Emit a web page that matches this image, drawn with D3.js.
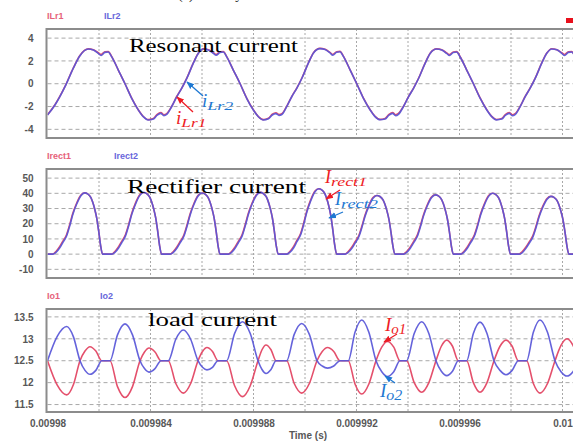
<!DOCTYPE html>
<html><head><meta charset="utf-8">
<script src="https://cdn.jsdelivr.net/npm/d3@7"></script>
<style>
html,body{margin:0;padding:0;background:#fff;}
svg{display:block;}
</style></head><body>
<svg id="c" width="573" height="441"></svg>
<script>
// ---------- shared x axis ----------
const T0 = 0.00998;
const xDomain = [0.00998, 0.01];
const xTickValues = [0.00998, 0.009984, 0.009988, 0.009992, 0.009996, 0.01];
const xTickLabels = ["0.00998", "0.009984", "0.009988", "0.009992", "0.009996", "0.01"];
const xGridValues = [0.009982, 0.009984, 0.009986, 0.009988, 0.00999, 0.009992, 0.009994, 0.009996, 0.009998, 0.01];
const xTitle = "Time (s)";

// ---------- panel 1 : resonant current (time in microseconds after 0.00998 s) ----------
const resTime_us = [0, 0.29, 0.68, 1.0, 1.26,
 1.58, 1.78, 1.97, 2.08, 2.23, 2.36, 2.49, 2.75, 3.01, 3.27, 3.53, 3.72, 3.91, 4.11, 4.26, 4.40, 4.52, 4.63, 4.82, 5.02, 5.21, 5.41, 5.66, 5.86,
 6.05, 6.25, 6.44, 6.55, 6.70, 6.83, 6.96, 7.22, 7.48, 7.74, 8.00, 8.19, 8.38, 8.58, 8.73, 8.87, 8.99, 9.10, 9.29, 9.49, 9.68, 9.88, 10.13, 10.33,
 10.58, 10.78, 10.97, 11.08, 11.23, 11.36, 11.49, 11.75, 12.01, 12.27, 12.53, 12.72, 12.91, 13.11, 13.26, 13.40, 13.52, 13.63, 13.82, 14.02, 14.21, 14.41, 14.66, 14.86,
 15.11, 15.31, 15.50, 15.61, 15.76, 15.89, 16.02, 16.28, 16.54, 16.80, 17.06, 17.25, 17.44, 17.64, 17.79, 17.93, 18.05, 18.16, 18.35, 18.55, 18.74, 18.94, 19.19, 19.39,
 19.58, 19.78, 19.97, 20.08, 20.23, 20.36, 20.49, 20.75];
const ILr2 = [-2.75, -1.87, -0.26, 1.35, 2.46,
 3.04, 2.96, 2.67, 2.48, 2.75, 2.78, 2.38, 1.2, 0, -1.28, -2.31, -2.89, -3.18, -3.1, -2.75, -2.6, -2.8, -2.69, -2.02, -1.14, -0.41, 0.47, 1.78, 2.67,
 3.04, 2.96, 2.67, 2.5, 2.74, 2.78, 2.36, 1.18, 0, -1.3, -2.33, -2.9, -3.18, -3.08, -2.74, -2.62, -2.78, -2.7, -2.0, -1.12, -0.4, 0.48, 1.8, 2.7,
 3.08, 3.0, 2.7, 2.5, 2.76, 2.8, 2.4, 1.22, 0, -1.28, -2.3, -2.88, -3.16, -3.1, -2.76, -2.6, -2.8, -2.68, -2.02, -1.15, -0.42, 0.46, 1.77, 2.66,
 3.04, 2.96, 2.66, 2.47, 2.74, 2.78, 2.37, 1.2, 0, -1.27, -2.3, -2.88, -3.17, -3.1, -2.75, -2.6, -2.8, -2.7, -2.03, -1.14, -0.41, 0.47, 1.78, 2.67,
 3.05, 2.97, 2.67, 2.48, 2.75, 2.78, 2.38, 1.2];
const ILr1 = [-2.72, -1.84, -0.24, 1.37, 2.48,
 3.06, 2.98, 2.72, 2.56, 2.8, 2.82, 2.4, 1.2, 0, -1.26, -2.3, -2.87, -3.15, -3.05, -2.68, -2.52, -2.72, -2.62, -2.0, -1.12, -0.4, 0.49, 1.8, 2.69,
 3.06, 2.98, 2.72, 2.57, 2.8, 2.82, 2.38, 1.18, 0, -1.28, -2.31, -2.88, -3.15, -3.03, -2.67, -2.54, -2.7, -2.63, -1.98, -1.1, -0.38, 0.5, 1.82, 2.72,
 3.1, 3.02, 2.75, 2.57, 2.81, 2.84, 2.42, 1.22, 0, -1.26, -2.28, -2.86, -3.13, -3.05, -2.69, -2.52, -2.72, -2.61, -2.0, -1.13, -0.4, 0.48, 1.79, 2.68,
 3.06, 2.98, 2.71, 2.55, 2.79, 2.82, 2.39, 1.2, 0, -1.25, -2.28, -2.86, -3.14, -3.05, -2.68, -2.53, -2.72, -2.63, -2.01, -1.12, -0.39, 0.49, 1.8, 2.69,
 3.07, 2.99, 2.72, 2.56, 2.8, 2.82, 2.4, 1.2];
const resTicks = [4, 2, 0, -2, -4];
const resTickLabels = ["4", "2", "0", "-2", "-4"];

// ---------- panel 2 : rectifier current ----------
const rectTime_us = [0,
 0.20, 0.32, 0.47, 0.59, 0.74, 0.86, 0.98, 1.13, 1.29, 1.44, 1.56, 1.68, 1.75, 1.83, 1.91, 1.99, 2.06, 2.14,
 2.49, 2.61, 2.76, 2.88, 3.03, 3.15, 3.27, 3.42, 3.58, 3.73, 3.85, 3.97, 4.04, 4.12, 4.20, 4.28, 4.35, 4.43,
 4.76, 4.88, 5.03, 5.15, 5.30, 5.42, 5.54, 5.69, 5.85, 6.00, 6.12, 6.24, 6.31, 6.39, 6.47, 6.55, 6.62, 6.70,
 7.02, 7.14, 7.29, 7.41, 7.56, 7.68, 7.80, 7.95, 8.11, 8.26, 8.38, 8.50, 8.57, 8.65, 8.73, 8.81, 8.88, 8.96,
 9.29, 9.41, 9.56, 9.68, 9.83, 9.95, 10.07, 10.22, 10.38, 10.53, 10.65, 10.77, 10.84, 10.92, 11.00, 11.08, 11.15, 11.23,
 11.55, 11.67, 11.82, 11.94, 12.09, 12.21, 12.33, 12.48, 12.64, 12.79, 12.91, 13.03, 13.10, 13.18, 13.26, 13.34, 13.41, 13.49,
 13.82, 13.94, 14.09, 14.21, 14.36, 14.48, 14.60, 14.75, 14.91, 15.06, 15.18, 15.30, 15.37, 15.45, 15.53, 15.61, 15.68, 15.76,
 16.04, 16.16, 16.31, 16.43, 16.58, 16.70, 16.82, 16.97, 17.13, 17.28, 17.40, 17.52, 17.59, 17.67, 17.75, 17.83, 17.90, 17.98,
 18.31, 18.43, 18.58, 18.70, 18.85, 18.97, 19.09, 19.24, 19.40, 19.55, 19.67, 19.79, 19.86, 19.94, 20.02, 20.10, 20.17, 20.25,
 20.8];
const Irect2 = [0,
 0, 1, 4, 7.5, 11.9, 18.4, 25.9, 32.8, 38.3, 40.3, 39.6, 37.3, 34.4, 29.9, 23.9, 14.9, 6, 0,
 0, 1, 4, 7.5, 12, 18.5, 26, 33, 38.5, 40.5, 39.8, 37.5, 34.6, 30, 24, 15, 6, 0,
 0, 1, 4, 7.4, 11.9, 18.4, 25.8, 32.8, 38.2, 40.2, 39.5, 37.2, 34.3, 29.8, 23.8, 14.9, 6, 0,
 0, 1, 4, 7.5, 12, 18.6, 26.1, 33.1, 38.6, 40.6, 39.9, 37.6, 34.7, 30.1, 24.1, 15, 6, 0,
 0, 1.1, 4.2, 8, 12.7, 19.6, 27.6, 35, 40.9, 43, 42.3, 39.8, 36.7, 31.9, 25.5, 15.9, 6.4, 0,
 0, 1, 3.8, 7.1, 11.4, 17.6, 24.8, 31.4, 36.7, 38.6, 37.9, 35.7, 33, 28.6, 22.9, 14.3, 5.7, 0,
 0, 1, 3.9, 7.2, 11.6, 17.8, 25, 31.8, 37.1, 39, 38.3, 36.1, 33.3, 28.9, 23.1, 14.4, 5.8, 0,
 0, 1, 4, 7.4, 11.9, 18.3, 25.7, 32.6, 38, 40, 39.3, 37, 34.2, 29.6, 23.7, 14.8, 5.9, 0,
 0, 0.9, 3.8, 7, 11.3, 17.4, 24.4, 31, 36.1, 38, 37.3, 35.2, 32.5, 28.1, 22.5, 14.1, 5.6, 0,
 0];
const Irect1 = [0,
 0, 1.6, 4.9, 8.4, 12.8, 19.3, 26.7, 33.5, 38.8, 40.3, 39.6, 37.3, 34.4, 29.9, 23.9, 14.9, 6, 0,
 0, 1.6, 4.9, 8.4, 12.9, 19.4, 26.8, 33.7, 39, 40.5, 39.8, 37.5, 34.6, 30, 24, 15, 6, 0,
 0, 1.6, 4.9, 8.3, 12.8, 19.3, 26.6, 33.5, 38.7, 40.2, 39.5, 37.2, 34.3, 29.8, 23.8, 14.9, 6, 0,
 0, 1.6, 4.9, 8.4, 12.9, 19.5, 26.9, 33.8, 39.1, 40.6, 39.9, 37.6, 34.7, 30.1, 24.1, 15, 6, 0,
 0, 1.7, 5.1, 8.9, 13.6, 20.5, 28.4, 35.7, 41.4, 43, 42.3, 39.8, 36.7, 31.9, 25.5, 15.9, 6.4, 0,
 0, 1.6, 4.7, 8, 12.3, 18.5, 25.6, 32.1, 37.2, 38.6, 37.9, 35.7, 33, 28.6, 22.9, 14.3, 5.7, 0,
 0, 1.6, 4.8, 8.1, 12.5, 18.7, 25.8, 32.5, 37.6, 39, 38.3, 36.1, 33.3, 28.9, 23.1, 14.4, 5.8, 0,
 0, 1.6, 4.9, 8.3, 12.8, 19.2, 26.5, 33.3, 38.5, 40, 39.3, 37, 34.2, 29.6, 23.7, 14.8, 5.9, 0,
 0, 1.5, 4.7, 7.9, 12.2, 18.3, 25.2, 31.7, 36.6, 38, 37.3, 35.2, 32.5, 28.1, 22.5, 14.1, 5.6, 0,
 0];
const rectTicks = [50, 40, 30, 20, 10, 0, -10];
const rectTickLabels = ["50", "40", "30", "20", "10", "0", "-10"];

// ---------- panel 3 : load current ----------
const loadTime_us = [0, 0.373, 0.746, 1.004, 1.262, 1.456, 1.650, 1.878, 2.105,
 2.427, 2.718, 3.010, 3.301, 3.592, 3.767, 3.942, 4.175, 4.408,
 4.691, 4.983, 5.274, 5.559, 5.845, 6.019, 6.194, 6.408, 6.621,
 6.959, 7.266, 7.573, 7.874, 8.175, 8.330, 8.485, 8.680, 8.874,
 9.289, 9.581, 9.872, 10.169, 10.466, 10.670, 10.874, 11.117, 11.359,
 11.682, 11.942, 12.202, 12.480, 12.757, 12.981, 13.204, 13.447, 13.689,
 13.949, 14.241, 14.532, 14.810, 15.087, 15.295, 15.503, 15.728, 15.953,
 16.280, 16.538, 16.796, 17.068, 17.340, 17.573, 17.806, 18.045, 18.283,
 18.610, 18.868, 19.126, 19.417, 19.709, 19.942, 20.175, 20.408, 20.641];
const Io2 = [12.5, 13.05, 13.28, 13.05, 12.5, 12.28, 12.19, 12.28, 12.5,
 12.5, 13.09, 13.34, 13.09, 12.5, 12.32, 12.24, 12.32, 12.5,
 12.5, 12.99, 13.2, 12.99, 12.5, 12.35, 12.29, 12.35, 12.5,
 12.5, 13.12, 13.39, 13.12, 12.5, 12.3, 12.21, 12.3, 12.5,
 12.5, 13.1, 13.35, 13.1, 12.5, 12.38, 12.33, 12.38, 12.5,
 12.5, 13.15, 13.43, 13.15, 12.5, 12.25, 12.14, 12.25, 12.5,
 12.5, 13.12, 13.39, 13.12, 12.5, 12.26, 12.16, 12.26, 12.5,
 12.5, 13.12, 13.38, 13.12, 12.5, 12.28, 12.18, 12.28, 12.5,
 12.5, 13.15, 13.43, 13.15, 12.5, 12.25, 12.15, 12.25, 12.5];
const Io1 = [12.5, 11.95, 11.72, 11.95, 12.5, 12.72, 12.82, 12.72, 12.5,
 12.5, 11.91, 11.66, 11.91, 12.5, 12.7, 12.79, 12.7, 12.5,
 12.5, 11.98, 11.76, 11.98, 12.5, 12.71, 12.8, 12.71, 12.5,
 12.5, 11.93, 11.68, 11.93, 12.5, 12.75, 12.86, 12.75, 12.5,
 12.5, 11.98, 11.76, 11.98, 12.5, 12.71, 12.8, 12.71, 12.5,
 12.5, 11.97, 11.74, 11.97, 12.5, 12.81, 12.94, 12.81, 12.5,
 12.5, 12.0, 11.78, 12.0, 12.5, 12.83, 12.97, 12.83, 12.5,
 12.5, 12.0, 11.78, 12.0, 12.5, 12.83, 12.97, 12.83, 12.5,
 12.5, 11.98, 11.76, 11.98, 12.5, 12.85, 13.0, 12.85, 12.5];
const loadTicks = [13.5, 13, 12.5, 12, 11.5];
const loadTickLabels = ["13.5", "13", "12.5", "12", "11.5"];

// ---------- drawing ----------
const RED = "#e4506c", BLUE = "#5856d8";
const ANN_RED = "#ee1c24", ANN_BLUE = "#1e78d2";
const PL = 47.5, PR = 620;
const svg = d3.select("#c");
const x = d3.scaleLinear().domain(xDomain).range([47.5, 562.5]);

const defs = svg.append("defs");
[["ar", ANN_RED], ["ab", ANN_BLUE]].forEach(([id, col]) => {
  defs.append("marker").attr("id", id).attr("viewBox", "0 0 10 10").attr("refX", 9).attr("refY", 5)
    .attr("markerWidth", 6).attr("markerHeight", 6).attr("orient", "auto")
    .append("path").attr("d", "M0,1 L10,5 L0,9 Z").attr("fill", col);
});

const panels = [
  {top: 29, bottom: 138, domain: [-4.76, 4.8], ticks: resTicks, labels: resTickLabels, time: resTime_us,
   series: [{name: "ILr1", v: ILr1, c: RED}, {name: "ILr2", v: ILr2, c: BLUE}], legY: 19, legX: [47, 104]},
  {top: 169, bottom: 278, domain: [-15.7, 56.0], ticks: rectTicks, labels: rectTickLabels, time: rectTime_us,
   series: [{name: "Irect1", v: Irect1, c: RED}, {name: "Irect2", v: Irect2, c: BLUE}], legY: 159, legX: [47, 114]},
  {top: 309, bottom: 412, domain: [11.33, 13.68], ticks: loadTicks, labels: loadTickLabels, time: loadTime_us,
   series: [{name: "Io1", v: Io1, c: RED}, {name: "Io2", v: Io2, c: BLUE}], legY: 299, legX: [47, 100]}
];

panels.forEach((p, pi) => {
  const y = d3.scaleLinear().domain(p.domain).range([p.bottom, p.top]);
  const g = svg.append("g");
  defs.append("clipPath").attr("id", "clip" + pi).append("rect")
    .attr("x", PL).attr("y", p.top).attr("width", PR - PL).attr("height", p.bottom - p.top);
  g.selectAll(".hg").data(p.ticks).join("line")
    .attr("x1", PL).attr("x2", PR).attr("y1", d => y(d)).attr("y2", d => y(d))
    .attr("stroke", "#a8a8a8").attr("stroke-width", 1).attr("stroke-dasharray", "4,3");
  g.selectAll(".vg").data(xGridValues).join("line")
    .attr("x1", d => x(d)).attr("x2", d => x(d)).attr("y1", p.top).attr("y2", p.bottom)
    .attr("stroke", "#a8a8a8").attr("stroke-width", 1).attr("stroke-dasharray", "2,2");
  const ax = g.append("g").attr("transform", `translate(${PL},0)`)
    .call(d3.axisLeft(y).tickValues(p.ticks).tickSize(0).tickPadding(14).tickFormat((d, i) => p.labels[i]));
  ax.select(".domain").remove();
  ax.selectAll("text").attr("fill", "#3a3a3a").style("font-family", "'Liberation Sans', Arial, sans-serif")
    .style("font-size", "10px").style("font-weight", "bold").attr("opacity", 0.85);
  const data = p.series.map(s => p.time.map((t, i) => [T0 + t * 1e-6, s.v[i]]));
  const line = d3.line().x(d => x(d[0])).y(d => y(d[1])).curve(d3.curveMonotoneX);
  const lg = g.append("g").attr("clip-path", `url(#clip${pi})`);
  p.series.forEach((s, si) => {
    lg.append("path").datum(data[si]).attr("d", line).attr("fill", "none")
      .attr("stroke", s.c).attr("stroke-width", 1.6).attr("stroke-linejoin", "round")
      .attr("opacity", si === 1 ? 0.92 : 1);
  });
  g.append("rect").attr("x", PL - 1).attr("y", p.top).attr("width", PR).attr("height", p.bottom - p.top)
    .attr("fill", "none").attr("stroke", "#8c8c8c").attr("stroke-width", 2);
  p.series.forEach((s, si) => {
    g.append("text").attr("x", p.legX[si]).attr("y", p.legY).text(s.name)
      .attr("fill", s.c).style("font-family", "'Liberation Sans', Arial, sans-serif")
      .style("font-size", "9px").style("font-weight", "bold").attr("opacity", 0.9);
  });
});

const xa = svg.append("g").attr("transform", "translate(0,412)")
  .call(d3.axisBottom(x).tickValues(xTickValues).tickSize(0).tickPadding(8).tickFormat((d, i) => xTickLabels[i]));
xa.select(".domain").remove();
xa.selectAll("text").attr("fill", "#3a3a3a").style("font-family", "'Liberation Sans', Arial, sans-serif")
  .style("font-size", "10px").style("font-weight", "bold").attr("opacity", 0.85);
svg.append("text").attr("x", 308).attr("y", 439).attr("text-anchor", "middle").text(xTitle)
  .attr("fill", "#3a3a3a").style("font-family", "'Liberation Sans', Arial, sans-serif")
  .style("font-size", "10px").style("font-weight", "bold").attr("opacity", 0.85);

svg.append("text").attr("x", 178).attr("y", -1).text("(a) Primary")
  .style("font-family", "'Liberation Serif', serif").style("font-size", "14px").attr("fill", "#222");
svg.append("rect").attr("x", 566).attr("y", 18).attr("width", 8).attr("height", 5).attr("fill", "#e8101c");

function title(t, xp, yp, len) {
  svg.append("text").attr("x", xp).attr("y", yp).text(t).attr("fill", "#000")
    .style("font-family", "'Liberation Serif', 'Times New Roman', serif").style("font-size", "19px")
    .attr("textLength", len).attr("lengthAdjust", "spacingAndGlyphs");
}
title("Resonant current", 129, 52, 169);
title("Rectifier current", 127, 193, 179);
title("load current", 148, 326, 129);

function ann(main, sub, xp, yp, col, mainSize, subSize, subLen) {
  const t = svg.append("text").attr("x", xp).attr("y", yp).attr("fill", col)
    .style("font-family", "'Liberation Serif', 'Times New Roman', serif").style("font-style", "italic");
  t.append("tspan").style("font-size", mainSize + "px").text(main);
  const s = t.append("tspan").attr("dy", 3).style("font-size", subSize + "px").text(sub);
  if (subLen) s.attr("textLength", subLen).attr("lengthAdjust", "spacingAndGlyphs");
}
function arrow(x1, y1, x2, y2, col, id) {
  svg.append("line").attr("x1", x1).attr("y1", y1).attr("x2", x2).attr("y2", y2)
    .attr("stroke", col).attr("stroke-width", 1.3).attr("marker-end", `url(#${id})`);
}
ann("i", "Lr2", 202, 107, ANN_BLUE, 19, 13, 26);
arrow(203, 96, 187, 82, ANN_BLUE, "ab");
ann("i", "Lr1", 176, 124, ANN_RED, 19, 13, 25);
arrow(193, 112, 177, 97, ANN_RED, "ar");

ann("I", "rect1", 325, 183, ANN_RED, 18, 13, 36);
arrow(340, 190, 326, 199, ANN_RED, "ar");
ann("I", "rect2", 335, 205, ANN_BLUE, 18, 13, 37);
arrow(343, 212, 329, 218, ANN_BLUE, "ab");

ann("I", "o1", 385, 331, ANN_RED, 19, 14, 15);
arrow(397, 334, 384, 342, ANN_RED, "ar");
ann("I", "o2", 380, 397, ANN_BLUE, 19, 14, 16);
arrow(395, 383, 385, 376, ANN_BLUE, "ab");
</script></body></html>
